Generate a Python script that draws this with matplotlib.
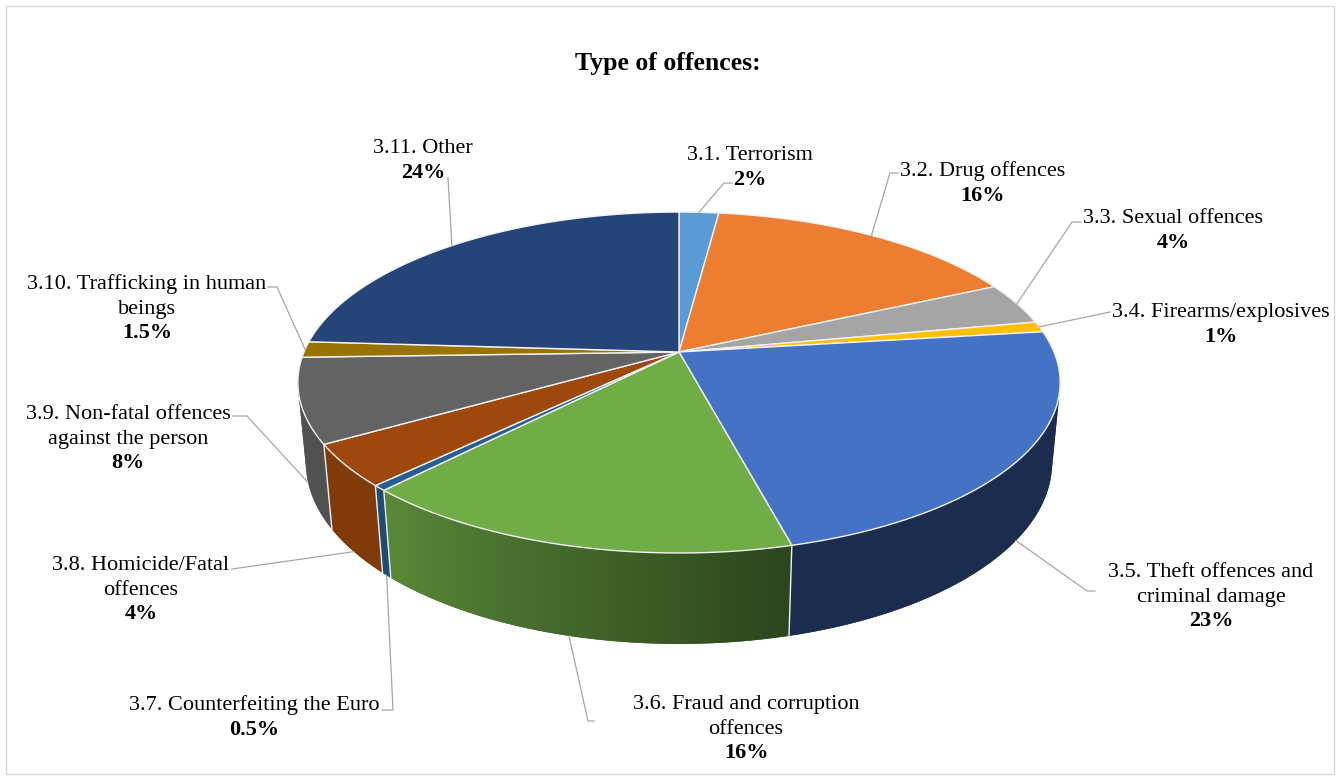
import numpy as np
import matplotlib
matplotlib.use("Agg")
import matplotlib.pyplot as plt
from matplotlib.patches import Polygon, Rectangle
from matplotlib.colors import to_rgb

# ---------------- data ----------------
categories = ["3.1. Terrorism", "3.2. Drug offences", "3.3. Sexual offences",
              "3.4. Firearms/explosives", "3.5. Theft offences and\ncriminal damage",
              "3.6. Fraud and corruption\noffences", "3.7. Counterfeiting the Euro",
              "3.8. Homicide/Fatal\noffences", "3.9. Non-fatal offences\nagainst the person",
              "3.10. Trafficking in human\nbeings", "3.11. Other"]
shares = [2, 16, 4, 1, 23, 16, 0.5, 4, 8, 1.5, 24]
pct_labels = ["2%", "16%", "4%", "1%", "23%", "16%", "0.5%", "4%", "8%", "1.5%", "24%"]
colors = ["#5B9BD5", "#ED7D31", "#A5A5A5", "#FFC000", "#4472C4", "#70AD47",
          "#255E91", "#9E480E", "#636363", "#997300", "#264478"]
title = "Type of offences:"

# ---------------- layout ----------------
label_x = [750, 983, 1173, 1221, 1211, 746, 254, 141, 128, 147, 423]
label_y = [153, 169, 216, 310, 570, 702, 703, 563, 412, 282, 146]
LINE_STEP = 24.5
# label-side points of leader lines
leader_start = [[(732, 183), (724, 183)], [(898, 173), (890, 173)],
                [(1081, 222), (1072, 222)], [(1110, 312)],
                [(1095, 591), (1087, 591)], [(594, 721), (588, 721)],
                [(382, 710), (393, 710)], [(232, 569)],
                [(233, 416), (247, 416)], [(268, 287), (277, 287)],
                [(448, 178)]]

FONT = "Liberation Serif"
FS = 16

# perspective parameters of the 3D disc
CX, CY, S = 679.0, 352.0, 375.0
SIN_A, COS_A = 0.44, 0.898
K = 0.179
SD = 0.0877
H = 0.24
VIS = -1.0 / (COS_A / K * COS_A)   # cos(theta) below which the side wall faces the viewer
TH_MIN = np.degrees(np.arccos(VIS))
TH_MAX = 360 - TH_MIN


def proj(theta_deg, z):
    th = np.radians(theta_deg)
    u, v = np.sin(th), np.cos(th)
    den = 1 + K * v - z * SD
    x = CX + S * u / den
    y = CY - S * (v * SIN_A + z * COS_A) / den
    return x, y


def shade(theta):
    return 0.40 + 0.42 * np.clip((theta - 166) / (226 - 166), 0, 1)


fig = plt.figure(figsize=(13.38, 7.79), dpi=100)
ax = fig.add_axes([0, 0, 1, 1])
ax.set_xlim(0, 1338)
ax.set_ylim(779, 0)
ax.axis("off")

ax.add_patch(Rectangle((5.5, 5.5), 1328, 768, fill=False, edgecolor="#D9D9D9", lw=1.0, zorder=1))

cum = np.concatenate([[0], np.cumsum(shares)])
angles = 360.0 * cum / cum[-1]

# ---- side walls (gradient shaded) ----
for i in range(len(shares)):
    a, b = max(angles[i], TH_MIN), min(angles[i + 1], TH_MAX)
    if a >= b:
        continue
    n = max(3, int((b - a) / 0.25) + 2)
    ts = np.linspace(a, b, n)
    top = np.array([proj(t, 0) for t in ts])
    bot = np.array([proj(t, -H) for t in ts])
    verts = np.vstack([top, bot[::-1]])
    base = np.array(to_rgb(colors[i]))
    mean_col = tuple(np.clip(base * shade(0.5 * (a + b)), 0, 1))
    poly = Polygon(verts, closed=True, facecolor=mean_col, edgecolor="none", lw=0, zorder=2)
    ax.add_patch(poly)
    xmin, xmax = verts[:, 0].min(), verts[:, 0].max()
    ymin, ymax = verts[:, 1].min(), verts[:, 1].max()
    xs = np.linspace(xmin, xmax, max(2, int(xmax - xmin) + 1))
    order = np.argsort(top[:, 0])
    th_x = np.interp(xs, top[order, 0], ts[order])
    img = np.clip(base[None, :] * shade(th_x)[:, None], 0, 1)[None, :, :]
    im = ax.imshow(img, extent=[xmin, xmax, ymax, ymin], aspect="auto",
                   interpolation="bilinear", zorder=2.1)
    im.set_clip_path(poly)

ax.set_xlim(0, 1338)
ax.set_ylim(779, 0)

# white separators on the wall
for t in angles:
    if TH_MIN < t < TH_MAX:
        x0, y0 = proj(t, 0); x1, y1 = proj(t, -H)
        ax.plot([x0, x1], [y0, y1], color="#F2F2F2", lw=1.0, zorder=3)

# ---- top face ----
for i in range(len(shares)):
    a, b = angles[i], angles[i + 1]
    n = max(2, int((b - a) / 0.5) + 2)
    ts = np.linspace(a, b, n)
    pts = [(CX, CY)] + [proj(t, 0) for t in ts]
    ax.add_patch(Polygon(pts, closed=True, facecolor=colors[i], edgecolor="#F2F2F2",
                         lw=1.0, joinstyle="round", zorder=4))

# ---- leader lines ----
for i in range(len(shares)):
    mid = 0.5 * (angles[i] + angles[i + 1])
    z = -H if np.cos(np.radians(mid)) < 0 else 0
    anchor = proj(mid, z)
    pts = leader_start[i] + [anchor]
    ax.plot([p[0] for p in pts], [p[1] for p in pts], color="#A6A6A6", lw=0.9,
            zorder=5, solid_joinstyle="miter")

# ---- labels ----
for i, name in enumerate(categories):
    lines = name.split("\n")
    y = label_y[i]
    for ln in lines:
        ax.text(label_x[i], y + 7.3, ln, ha="center", va="baseline", fontsize=FS,
                family=FONT, color="#000000", zorder=6)
        y += LINE_STEP
    ax.text(label_x[i], y + 7.3, pct_labels[i], ha="center", va="baseline", fontsize=FS,
            family=FONT, fontweight="bold", color="#000000", zorder=6)

ax.text(668, 69.5, title, ha="center", va="baseline", fontsize=18.5, family=FONT,
        fontweight="bold", color="#000000")

fig.savefig("out.png", dpi=100, facecolor="white")
